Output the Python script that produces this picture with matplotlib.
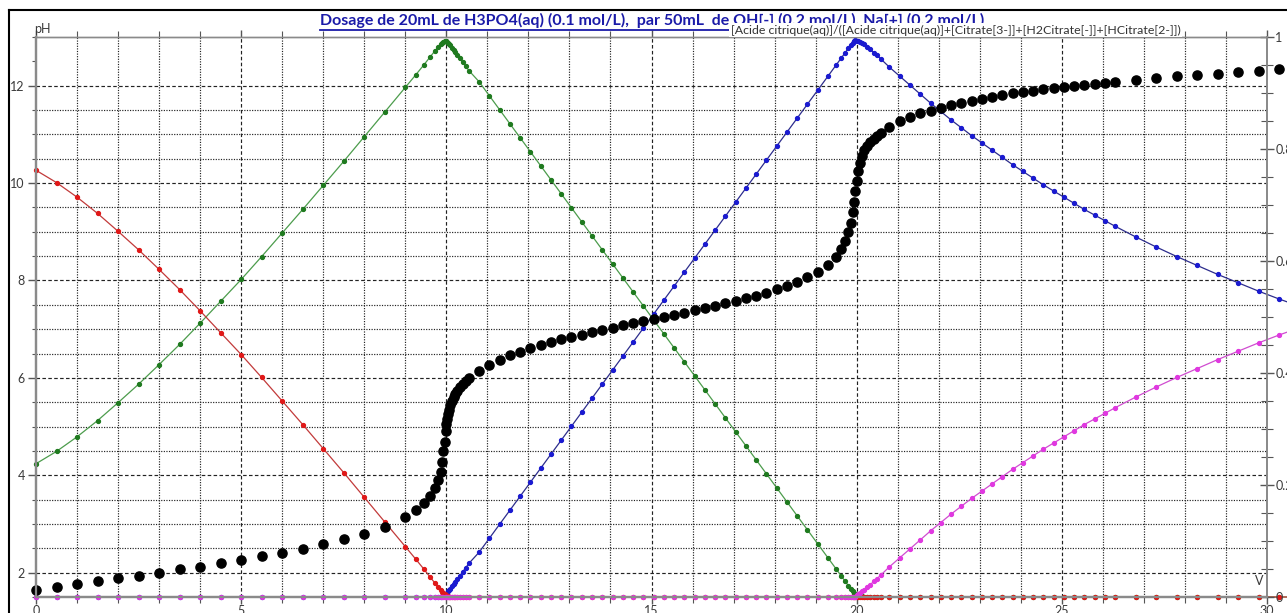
import matplotlib.pyplot as plt
from matplotlib.lines import Line2D
from matplotlib.ticker import MultipleLocator, FuncFormatter

W, H = 1287, 613

# added volume (mL) -- the same abscissa is used for every series
vol = ([0, 0.5, 1, 1.5, 2, 2.5, 3, 3.5, 4, 4.5, 5, 5.5, 6, 6.5, 7, 7.5, 8, 8.5]
       + [9, 9.25, 9.45, 9.6, 9.72, 9.8, 9.86, 9.9, 9.93, 9.96, 9.98]
       + [10, 10.02, 10.04, 10.07, 10.1, 10.14, 10.18, 10.22, 10.27, 10.33, 10.4, 10.47, 10.55]
       + [10.8, 11.05, 11.3, 11.55, 11.8, 12.05, 12.3, 12.55, 12.8, 13.05, 13.3, 13.55,
          13.8, 14.05, 14.3, 14.55, 14.8, 15.05, 15.3, 15.55, 15.8, 16.05, 16.3, 16.55,
          16.8, 17.05, 17.3, 17.55, 17.8, 18.05, 18.3, 18.55, 18.8, 19.05, 19.3]
       + [19.5, 19.62, 19.72, 19.8, 19.85, 19.9, 19.94, 19.97, 20, 20.03, 20.07, 20.12,
          20.18, 20.25, 20.33, 20.42, 20.5, 20.6]
       + [20.8, 21.05, 21.3, 21.55, 21.8, 22.05, 22.3, 22.55, 22.8, 23.05, 23.3, 23.55,
          23.8, 24.05, 24.3, 24.55, 24.8, 25.05, 25.3, 25.55, 25.8, 26.05, 26.3]
       + [26.8, 27.3, 27.8, 28.3, 28.8, 29.3, 29.8, 30.3, 30.8])

ph = ([1.65, 1.70, 1.76, 1.82, 1.88, 1.94, 1.99, 2.07, 2.12, 2.19, 2.26, 2.34, 2.41, 2.49,
       2.59, 2.69, 2.80, 2.94]
      + [3.15, 3.29, 3.43, 3.58, 3.74, 3.90, 4.07, 4.28, 4.49, 4.69, 4.90]
      + [5.05, 5.15, 5.25, 5.35, 5.44, 5.52, 5.60, 5.67, 5.74, 5.81, 5.88, 5.94, 6.00]
      + [6.15, 6.27, 6.37, 6.46, 6.54, 6.61, 6.68, 6.74, 6.80, 6.84, 6.89, 6.94,
         6.99, 7.03, 7.08, 7.12, 7.17, 7.21, 7.25, 7.30, 7.34, 7.39, 7.43, 7.48,
         7.53, 7.58, 7.63, 7.69, 7.75, 7.82, 7.89, 7.97, 8.07, 8.18, 8.32]
      + [8.48, 8.64, 8.82, 9.00, 9.18, 9.40, 9.62, 9.84, 10.05, 10.25, 10.42, 10.56,
         10.67, 10.76, 10.84, 10.91, 10.97, 11.03]
      + [11.16, 11.28, 11.36, 11.43, 11.49, 11.55, 11.60, 11.65, 11.69, 11.73, 11.77, 11.81,
         11.84, 11.87, 11.90, 11.93, 11.96, 11.98, 12.00, 12.02, 12.04, 12.06, 12.08]
      + [12.12, 12.16, 12.19, 12.22, 12.25, 12.28, 12.31, 12.34, 12.36])

# species fractions (right axis)
frac_red = ([0.762, 0.740, 0.714, 0.685, 0.653, 0.620, 0.585, 0.549, 0.511, 0.472, 0.433,
             0.392, 0.350, 0.308, 0.265, 0.222, 0.178, 0.134]
            + [0.090, 0.068, 0.050, 0.036, 0.025, 0.018, 0.012, 0.009, 0.007, 0.005, 0.004]
            + [0.002, 0.001, 0.001] + [0.0] * 10
            + [0.0] * 85)

frac_green = ([0.238, 0.260, 0.286, 0.315, 0.347, 0.380, 0.415, 0.451, 0.489, 0.528, 0.567,
               0.608, 0.650, 0.692, 0.735, 0.778, 0.822, 0.866]
              + [0.910, 0.932, 0.950, 0.964, 0.975, 0.982, 0.988, 0.990, 0.991, 0.992, 0.992]
              + [0.992, 0.991, 0.989, 0.988, 0.985, 0.981, 0.977, 0.973, 0.968, 0.962,
                 0.955, 0.948, 0.940]
              + [0.92, 0.895, 0.87, 0.845, 0.82, 0.795, 0.77, 0.745, 0.72, 0.695, 0.67,
                 0.645, 0.62, 0.595, 0.57, 0.545, 0.52, 0.495, 0.47, 0.445, 0.42, 0.395,
                 0.37, 0.345, 0.32, 0.295, 0.27, 0.245, 0.22, 0.195, 0.17, 0.145, 0.12,
                 0.095, 0.07]
              + [0.05, 0.038, 0.028, 0.02, 0.015, 0.011, 0.008, 0.006, 0.004, 0.003,
                 0.002, 0.001, 0, 0, 0, 0, 0, 0]
              + [0.0] * 32)

frac_blue = ([0.0] * 18
             + [0, 0, 0, 0, 0, 0, 0, 0.001, 0.002, 0.003, 0.004]
             + [0.006, 0.008, 0.010, 0.012, 0.015, 0.019, 0.023, 0.027, 0.032, 0.038,
                0.045, 0.052, 0.060]
             + [0.08, 0.105, 0.13, 0.155, 0.18, 0.205, 0.23, 0.255, 0.28, 0.305, 0.33,
                0.355, 0.38, 0.405, 0.43, 0.455, 0.48, 0.505, 0.53, 0.555, 0.58, 0.605,
                0.63, 0.655, 0.68, 0.705, 0.73, 0.755, 0.78, 0.805, 0.83, 0.855, 0.88,
                0.905, 0.93]
             + [0.95, 0.962, 0.972, 0.98, 0.985, 0.989, 0.992, 0.994, 0.993, 0.992,
                0.991, 0.989, 0.987, 0.983, 0.978, 0.972, 0.967, 0.96]
             + [0.946, 0.930, 0.914, 0.898, 0.882, 0.867, 0.852, 0.838, 0.824, 0.811,
                0.798, 0.785, 0.772, 0.760, 0.748, 0.736, 0.725, 0.714, 0.703, 0.692,
                0.682, 0.672, 0.662]
             + [0.643, 0.625, 0.608, 0.592, 0.576, 0.561, 0.546, 0.532, 0.519])

frac_pink = ([0.0] * 77
             + [0, 0, 0, 0, 0, 0, 0, 0, 0.003, 0.005, 0.007, 0.010, 0.013, 0.017,
                0.022, 0.028, 0.033, 0.040]
             + [0.054, 0.070, 0.086, 0.102, 0.118, 0.133, 0.148, 0.162, 0.176, 0.189,
                0.202, 0.215, 0.228, 0.240, 0.252, 0.264, 0.275, 0.286, 0.297, 0.308,
                0.318, 0.328, 0.338]
             + [0.357, 0.375, 0.392, 0.408, 0.424, 0.439, 0.454, 0.468, 0.481])

title = "Dosage de 20mL de H3PO4(aq) (0.1 mol/L),  par 50mL  de OH[-] (0.2 mol/L), Na[+] (0.2 mol/L)"
right_label = "[Acide citrique(aq)]/([Acide citrique(aq)]+[Citrate[3-]]+[H2Citrate[-]]+[HCitrate[2-]])"

plt.rcParams['font.family'] = ['Lato', 'DejaVu Sans']

fig = plt.figure(figsize=(W / 100, H / 100), dpi=100)
ax = fig.add_axes([36 / W, 16 / H, (1267 - 36) / W, (597 - 37) / H])
ax.set_xlim(0, 30)
ax.set_ylim(1.5, 13.0)
ax2 = ax.twinx()
ax2.set_ylim(0, 1)

# grid: dotted every unit / half pH, dashed on the labelled values
for v in range(1, 30):
    ls = (0, (3, 2)) if v % 5 == 0 else (0, (1, 1.2))
    ax.axvline(v, color='#222222', lw=0.85, ls=ls, zorder=0)
for k in range(21):
    p = 2 + 0.5 * k
    ls = (0, (3, 2)) if p % 2 == 0 else (0, (1, 1.2))
    ax.axhline(p, color='#222222', lw=0.85, ls=ls, zorder=0)

# fraction curves, drawn in the right-hand axis coordinates
series = [
    (frac_green, '#4c9c4c', '#1f7a1f'),
    (frac_blue, '#2c2c8c', '#1a1ad0'),
    (frac_red, '#c23a3a', '#e01818'),
    (frac_pink, '#d04cd0', '#e038e0'),
]
for fr, lc, mc in series:
    ax.plot(vol, fr, color=lc, lw=0.9, marker='o', ms=2.8, mfc=mc, mec=mc,
            transform=ax2.transData, clip_on=False, zorder=3)

# pH curve
ax.plot(vol, ph, ls='none', marker='o', ms=6.6, color='black', clip_on=False, zorder=5)

for a in (ax, ax2):
    for s in a.spines.values():
        s.set_color('#8a8a8a')
    a.spines['left'].set_linewidth(1.6)
    a.spines['bottom'].set_linewidth(1.6)
    a.spines['right'].set_linewidth(1.3)
    a.spines['top'].set_linewidth(1.0)

ax.xaxis.set_major_locator(MultipleLocator(5))
ax.xaxis.set_minor_locator(MultipleLocator(1))
ax.yaxis.set_major_locator(MultipleLocator(2))
ax.yaxis.set_minor_locator(MultipleLocator(0.5))
ax.tick_params(axis='x', which='major', length=5, width=1, color='#555555', pad=1,
               labelsize=9, labelcolor='#3a3a3a', top=True)
ax.tick_params(axis='x', which='minor', length=4, width=0.8, color='#555555', top=True)
ax.tick_params(axis='y', which='major', length=6, width=1, color='#555555', pad=2,
               labelsize=9, labelcolor='#3a3a3a')
ax.tick_params(axis='y', which='minor', length=3, width=0.8, color='#555555')

ax2.yaxis.set_major_locator(MultipleLocator(0.2))
ax2.yaxis.set_minor_locator(MultipleLocator(0.05))
ax2.yaxis.set_major_formatter(FuncFormatter(lambda v, p: f'{v:g}'))
ax2.tick_params(axis='y', which='major', direction='inout', length=10, width=1,
                color='#555555', pad=1, labelsize=9, labelcolor='#3a3a3a')
ax2.tick_params(axis='y', which='minor', direction='inout', length=8, width=0.8,
                color='#555555')

fig.text(34 / W, 1 - 29 / H, 'pH', fontsize=9, color='#3a3a3a', va='center', ha='left')
ax.text(29.8, 1.5 + 0.2, 'V', fontsize=9, color='#3a3a3a', ha='center', va='bottom')

# outer frame
fig.add_artist(Line2D([9 / W, 9 / W], [0, 1 - 10 / H], color='black', lw=1.5))
fig.add_artist(Line2D([9 / W, 1], [1 - 10 / H, 1 - 10 / H], color='black', lw=1.5))

# underlined blue title
t = fig.text(320 / W, 1 - 20 / H, title, fontsize=11.5, fontweight='bold',
             color='#1a1aa8', ha='left', va='center')
fig.canvas.draw()
bb = t.get_window_extent(fig.canvas.get_renderer())
fig.add_artist(Line2D([bb.x0 / W, bb.x1 / W], [(H - 30) / H, (H - 30) / H],
                      color='#1a1aa8', lw=1.3))

fig.text(731 / W, 1 - 30 / H, right_label, fontsize=8.9, color='#333333',
         family=['Liberation Sans Narrow', 'Lato'], ha='left', va='center',
         bbox=dict(facecolor='white', edgecolor='none', pad=1.2), zorder=10)

fig.savefig('out.png', dpi=100)
